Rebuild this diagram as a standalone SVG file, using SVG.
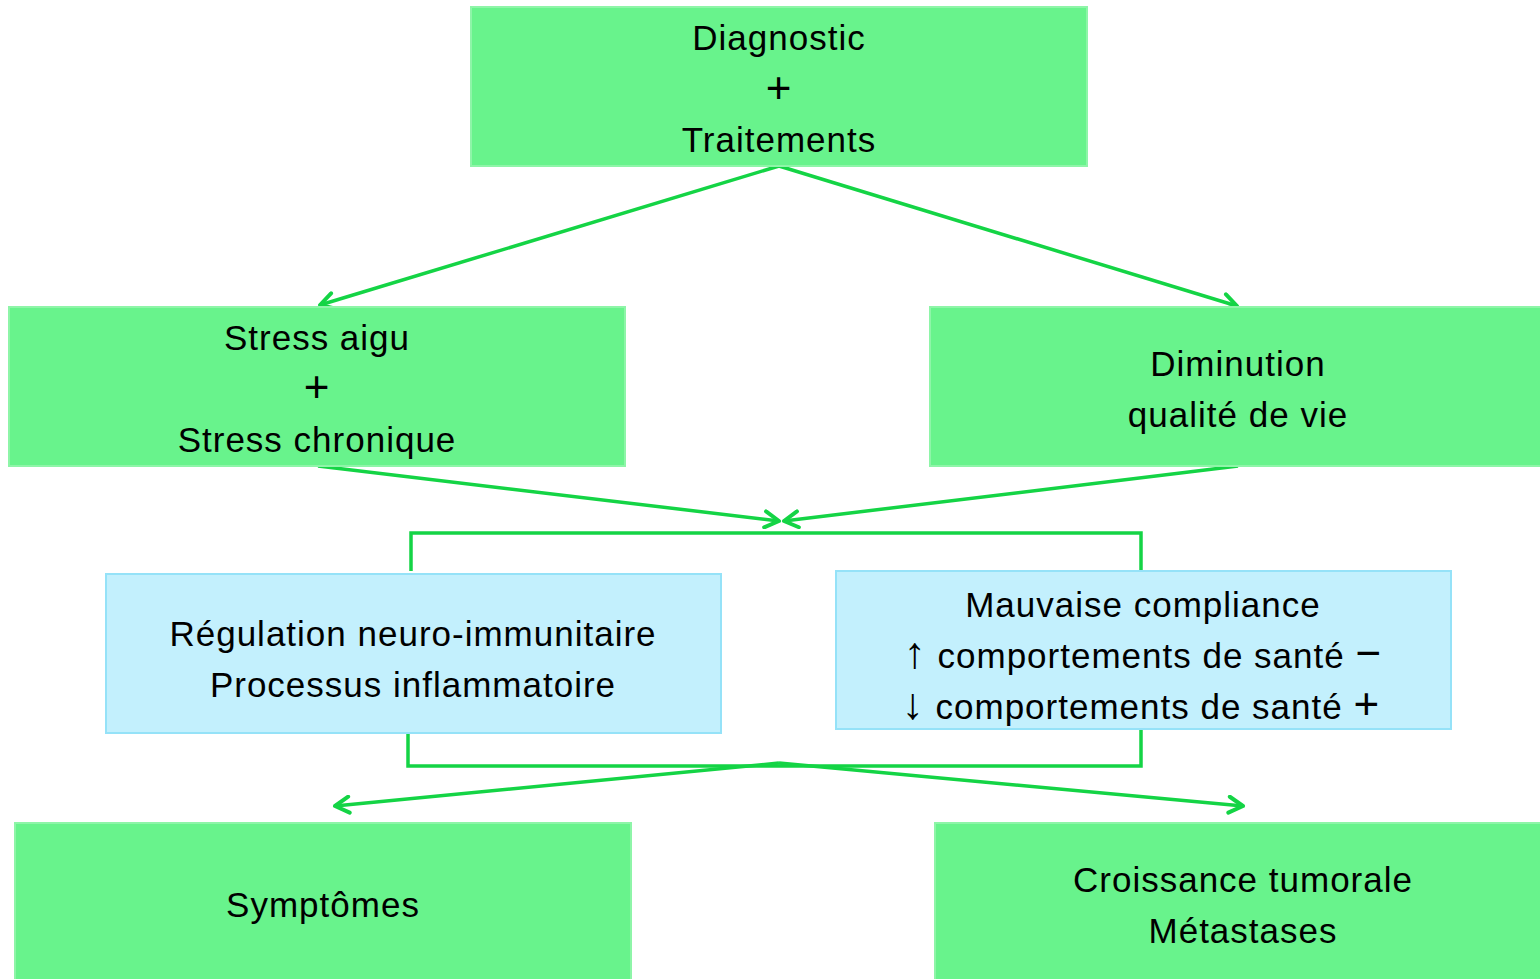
<svg xmlns="http://www.w3.org/2000/svg" width="1540" height="979" viewBox="0 0 1540 979">
<style>
.g{fill:#68F38C;stroke:#8EF5A8;stroke-width:2}
.b{fill:#C3F0FD;stroke:#95E2F8;stroke-width:2}
.t{font-family:"Liberation Sans",Arial,sans-serif;font-size:35px;letter-spacing:1px;fill:#000;text-anchor:middle}
.p{font-size:44px}
.c{fill:none;stroke:#14D445;stroke-width:3.5}
</style>
<defs>
<marker id="a" viewBox="0 0 20 20" refX="17" refY="10" markerWidth="20" markerHeight="20" markerUnits="userSpaceOnUse" orient="auto">
<path d="M3,2 L17,10 L3,18" fill="none" stroke="#14D445" stroke-width="4" stroke-linecap="round" stroke-linejoin="round"/>
</marker>
</defs>
<rect width="1540" height="979" fill="#fff"/>
<g id="connectors">
<path class="c" d="M779,166 L320,305" marker-end="url(#a)"/>
<path class="c" d="M779,166 L1237,306" marker-end="url(#a)"/>
<path class="c" d="M318,466 L779,521" marker-end="url(#a)"/>
<path class="c" d="M1238,466 L784,521" marker-end="url(#a)"/>
<path class="c" d="M411,571 L411,533 L1141,533 L1141,571"/>
<path class="c" d="M408,733 L408,766 L1141,766 L1141,729"/>
<path class="c" d="M779,763 L335,806" marker-end="url(#a)"/>
<path class="c" d="M779,763 L1243,806" marker-end="url(#a)"/>
</g>
<g id="n1"><rect class="g" x="471" y="7" width="616" height="159"/>
<text class="t" x="779" y="50">Diagnostic</text><text class="t p" x="779" y="103">+</text><text class="t" x="779" y="152">Traitements</text></g>
<g id="n2"><rect class="g" x="9" y="307" width="616" height="159"/>
<text class="t" x="317" y="350">Stress aigu</text><text class="t p" x="317" y="402">+</text><text class="t" x="317" y="452">Stress chronique</text></g>
<g id="n3"><rect class="g" x="930" y="307" width="620" height="159"/>
<text class="t" x="1238" y="376">Diminution</text><text class="t" x="1238" y="427">qualité de vie</text></g>
<g id="n4"><rect class="b" x="106" y="574" width="615" height="159"/>
<text class="t" x="413" y="646">Régulation neuro-immunitaire</text><text class="t" x="413" y="697">Processus inflammatoire</text></g>
<g id="n5"><rect class="b" x="836" y="571" width="615" height="158"/>
<text class="t" x="1143" y="617">Mauvaise compliance</text><text class="t" x="1143" y="668"><tspan class="p">↑</tspan> comportements de santé <tspan class="p">−</tspan></text><text class="t" x="1141" y="719"><tspan class="p">↓</tspan> comportements de santé <tspan class="p">+</tspan></text></g>
<g id="n6"><rect class="g" x="15" y="823" width="616" height="170"/>
<text class="t" x="323" y="917">Symptômes</text></g>
<g id="n7"><rect class="g" x="935" y="823" width="620" height="170"/>
<text class="t" x="1243" y="892">Croissance tumorale</text><text class="t" x="1243" y="943">Métastases</text></g>
</svg>
